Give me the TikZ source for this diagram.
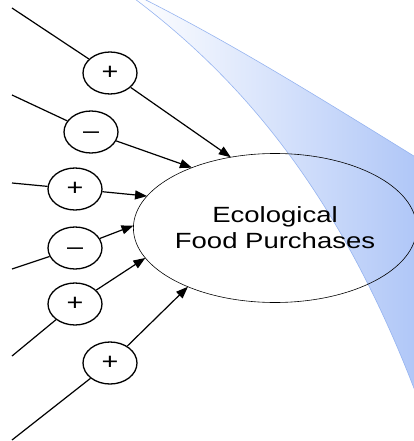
\documentclass[tikz,border=0pt]{standalone}
\usepackage{fontspec}
\newfontfamily\widesans[FakeStretch=1.25]{Liberation Sans}
\usetikzlibrary{arrows.meta,shapes.geometric}
\definecolor{swoosh}{RGB}{172,196,247}
\definecolor{swooshedge}{RGB}{150,180,240}

\begin{document}
\begin{tikzpicture}[x=1pt,y=-1pt,
  sign/.style={ellipse,draw,line width=1.3pt,minimum width=54pt,minimum height=42pt,
    inner sep=0pt,font=\widesans\fontsize{23}{26}\selectfont},
  feed/.style={line width=1.2pt},
  arr/.style={line width=1.2pt,-{Triangle[length=12pt,width=9pt]}}]
\useasboundingbox (0,0) rectangle (414,441);
% background swoosh
\begin{scope}
\clip (0,0) rectangle (414,441);
\shade[left color=white,right color=swoosh]
  (131,-4) .. controls (238,76) and (340,190) .. (420,404) -- (430,404) -- (430,166)
  .. controls (320,98) and (230,42) .. (136,-5) -- cycle;
\draw[swooshedge,line width=0.6pt] (131,-4) .. controls (238,76) and (340,190) .. (420,404);
\draw[swooshedge,line width=0.6pt] (136,-5) .. controls (230,42) and (320,98) .. (430,166);
\end{scope}
\node[ellipse,draw,line width=0.6pt,minimum width=276pt,minimum height=149pt,
  inner sep=0pt,outer sep=0pt,align=center,
  font=\widesans\fontsize{22}{26}\selectfont] (ell) at (275,228) {Ecological\\Food Purchases};
%\draw[gray] (0,0) grid (414,441);
\foreach \n/\sy/\cx/\cy/\s/\a in {1/8/110/73/+/122.6, 2/95/91/132/\vphantom{+}\textendash/144.3,
    3/183/75/189/+/166.2, 4/269/75/248/\vphantom{+}\textendash/179,
    5/356/75/304/+/193.8, 6/440/110/363/+/214.5} {
  \coordinate (s\n) at (12,\sy);
  \node[sign] (p\n) at (\cx,\cy) {\s};
  \draw[feed] (s\n) -- (p\n);
  \draw[arr] (p\n) -- (ell.\a);
}
\end{tikzpicture}
\end{document}
